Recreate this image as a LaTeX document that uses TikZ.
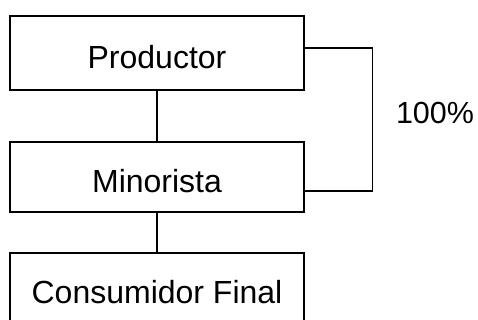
\documentclass[tikz,border=0pt]{standalone}
\usepackage{fontspec}
\setmainfont{Liberation Sans}
\begin{document}
\begin{tikzpicture}[x=1pt,y=-1pt,
  box/.style={draw, line width=1.3pt, minimum width=294pt, inner sep=0pt,
    text height=31pt, text depth=0pt, font=\fontsize{32}{36}\selectfont},
  conn/.style={line width=1.3pt}]
\useasboundingbox[fill=white] (0,0) rectangle (478,320);
\node[box, minimum height=74pt] (P) at (157,53) {Productor};
\node[box, minimum height=70pt] (M) at (157,177) {Minorista};
\node[box, minimum height=70pt] (C) at (157,288) {Consumidor Final};
\node[font=\fontsize{30.5}{34}\selectfont] (L) at (435,113) {100\%};
\draw[conn] (P.south) -- (M.north);
\draw[conn] (M.south) -- (C.north);
\draw[conn] ([yshift=5pt]P.east) -- ++(68,0) |- ([yshift=-14pt]M.east);
\end{tikzpicture}
\end{document}
